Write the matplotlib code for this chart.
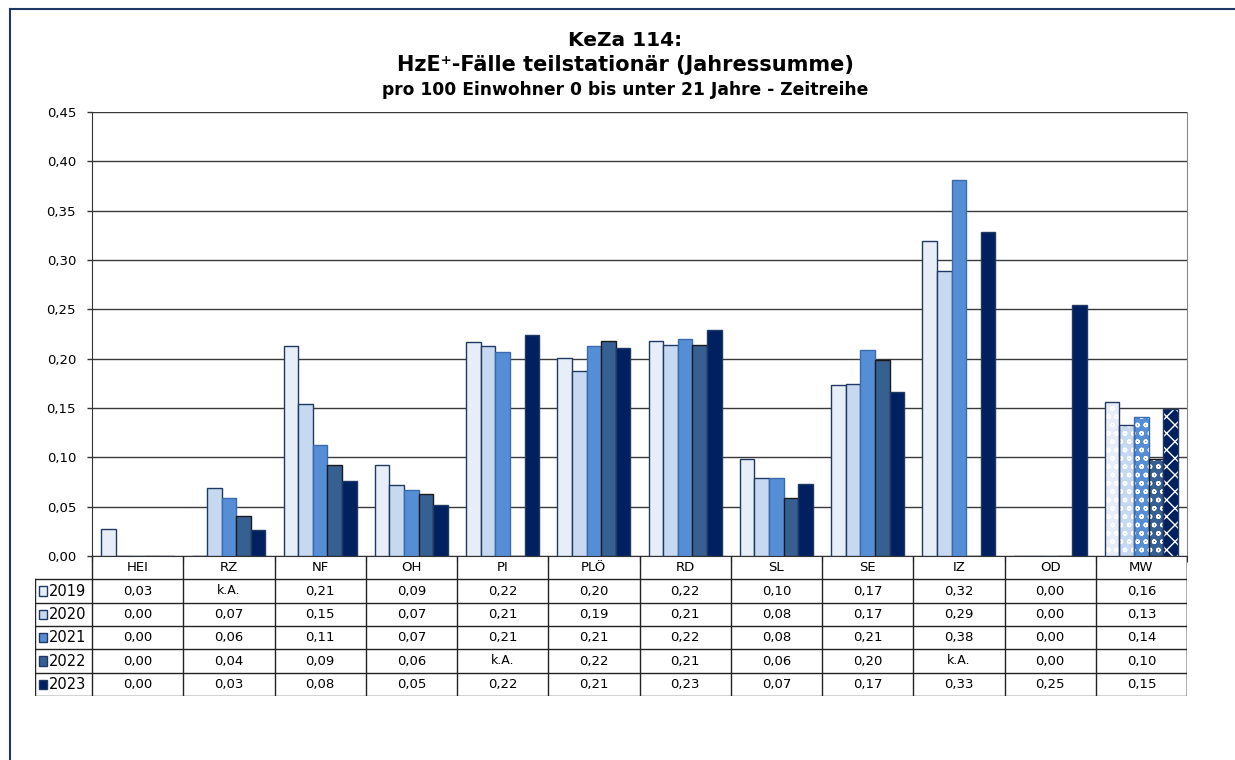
import numpy as np
import matplotlib
matplotlib.use("Agg")
import matplotlib.pyplot as plt
from matplotlib.patches import Rectangle

plt.rcParams['font.family'] = ['DejaVu Sans']

categories = ["HEI", "RZ", "NF", "OH", "PI", "PLÖ", "RD", "SL", "SE", "IZ", "OD", "MW"]
years = ["2019", "2020", "2021", "2022", "2023"]
nan = np.nan
v2019 = [0.027, nan, 0.213, 0.092, 0.217, 0.201, 0.218, 0.098, 0.173, 0.319, 0.0, 0.156]
v2020 = [0.0, 0.069, 0.154, 0.072, 0.213, 0.188, 0.214, 0.079, 0.174, 0.289, 0.0, 0.133]
v2021 = [0.0, 0.059, 0.112, 0.067, 0.207, 0.213, 0.220, 0.079, 0.209, 0.381, 0.0, 0.141]
v2022 = [0.0, 0.041, 0.092, 0.063, nan, 0.218, 0.214, 0.059, 0.199, nan, 0.0, 0.098]
v2023 = [0.0, 0.026, 0.076, 0.052, 0.224, 0.211, 0.229, 0.073, 0.166, 0.328, 0.254, 0.149]
series = [v2019, v2020, v2021, v2022, v2023]

fills = ["#E7EEF8", "#C6D9F1", "#558ED5", "#376092", "#002060"]
edges = ["#1F3864", "#1F3864", "#3A6BB0", "#1A1A1A", "#1F3864"]

W, H = 1235, 760
fig = plt.figure(figsize=(W / 100, H / 100), dpi=100)

def fx(px):
    return px / W

def fy(py):
    return 1 - py / H

# outer frame
fig.add_artist(plt.Line2D([fx(10), fx(10)], [fy(9), fy(760)], color="#1F3864", lw=1.5))
fig.add_artist(plt.Line2D([fx(10), fx(1235)], [fy(9), fy(9)], color="#1F3864", lw=1.5))

L, R, T, B = 92, 1187, 112, 556
ax = fig.add_axes([fx(L), fy(B), fx(R - L), (B - T) / H])
n = len(categories)
x = np.arange(n)
bw = 0.16
for i, (vals, fc, ec) in enumerate(zip(series, fills, edges)):
    off = (i - 2) * bw
    vals = np.array(vals, dtype=float)
    h = np.nan_to_num(vals[:-1])
    ax.bar(x[:-1] + off, h, width=bw, color=fc, edgecolor=ec, linewidth=1.0, zorder=3)
    # MW bar with pattern
    mw = np.nan_to_num(vals[-1])
    ax.bar(x[-1] + off, mw, width=bw, color=fc, edgecolor="white", linewidth=0,
           hatch="oo" if i < 4 else "xx", zorder=3)
    ax.bar(x[-1] + off, mw, width=bw, color="none", edgecolor=ec, linewidth=1.0, zorder=4)

ax.set_xlim(-0.5, n - 0.5)
ax.set_ylim(0, 0.45)
yt = np.arange(0, 0.451, 0.05)
ax.set_yticks(yt)
ax.set_yticklabels([f"{t:.2f}".replace(".", ",") for t in yt], fontsize=9.5)
ax.tick_params(axis='y', direction='out', length=3.5, width=1, color="#333333", pad=8)
ax.set_xticks(np.arange(-0.5, n, 1.0))
ax.set_xticklabels([])
ax.tick_params(axis='x', direction='out', length=4, color="#333333")
ax.grid(axis='y', color="#3a3a3a", lw=1, zorder=0)
ax.spines["top"].set_visible(False)
ax.spines["right"].set_color("#888888")
ax.spines["left"].set_color("#333333")
ax.spines["bottom"].set_color("#333333")

# table
TL, TB = 35, 696
tax = fig.add_axes([fx(TL), fy(TB), fx(R - TL), (TB - B) / H])
lab_w = (L - TL) / ((R - L) / n)
tax.set_xlim(-0.5 - lab_w, n - 0.5)
tax.set_ylim(6, 0)
tax.axis("off")
lc = "#222222"
for b in np.arange(-0.5, n, 1.0):
    tax.plot([b, b], [0, 6], color=lc, lw=1)
tax.plot([n - 0.5, n - 0.5], [0, 6], color=lc, lw=1)
tax.plot([-0.5 - lab_w, -0.5 - lab_w], [1, 6], color=lc, lw=1)
for r in range(1, 7):
    tax.plot([-0.5 - lab_w, n - 0.5], [r, r], color=lc, lw=1)
for j, c in enumerate(categories):
    tax.text(j, 0.5, c, ha="center", va="center", fontsize=9.5)
for i, (vals, fc, ec) in enumerate(zip(series, fills, edges)):
    yrow = i + 1.5
    tax.add_patch(Rectangle((-0.5 - lab_w + 0.045, yrow - 0.2), 0.085, 0.4,
                            facecolor=fc, edgecolor="#1F3864", lw=1))
    tax.text(-0.5 - lab_w + 0.15, yrow, years[i], ha="left", va="center", fontsize=10.5)
    for j, v in enumerate(vals):
        s = "k.A." if np.isnan(v) else f"{v:.2f}".replace(".", ",")
        tax.text(j, yrow, s, ha="center", va="center", fontsize=9.5 if s != "k.A." else 9)

# title
cx = fx(625)
fig.text(cx, fy(40), "KeZa 114:", ha="center", va="center", fontsize=14.5, fontweight="bold")
fig.text(cx, fy(65), "HzE\u207a-Fälle teilstationär (Jahressumme)", ha="center", va="center",
         fontsize=15, fontweight="bold")
fig.text(cx, fy(90), "pro 100 Einwohner 0 bis unter 21 Jahre - Zeitreihe", ha="center", va="center",
         fontsize=12.3, fontweight="bold")

fig.savefig("out.png", dpi=100)
